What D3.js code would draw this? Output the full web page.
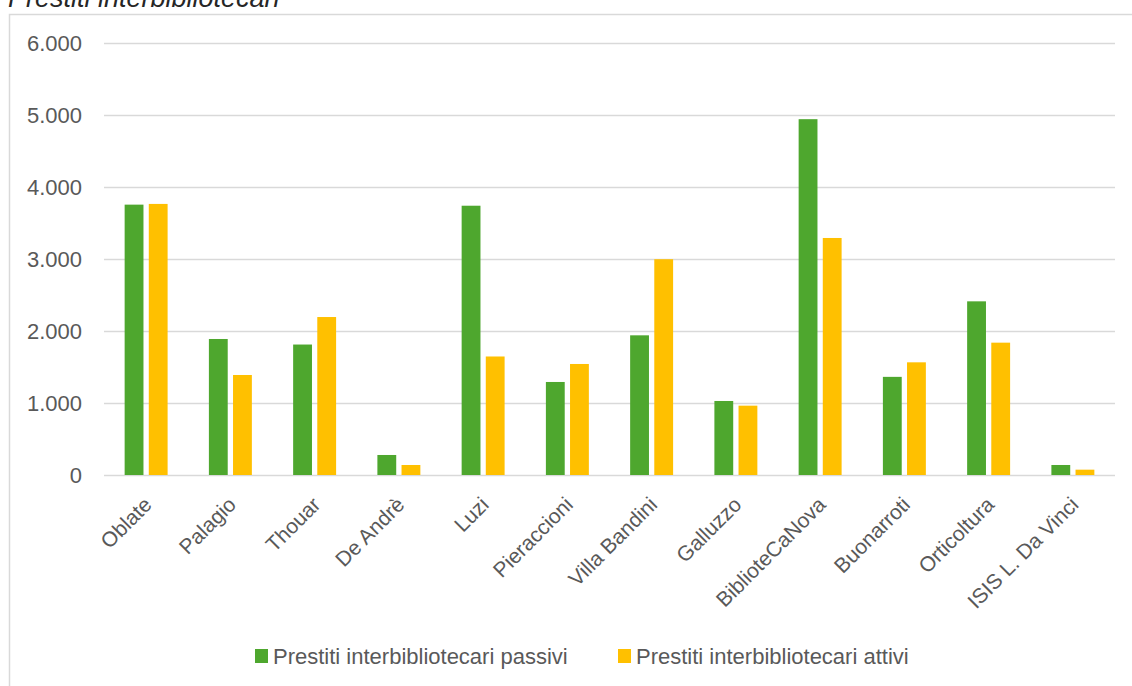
<!DOCTYPE html>
<html><head><meta charset="utf-8">
<script src="https://cdn.jsdelivr.net/npm/d3@7"></script>
<style>
html,body{margin:0;padding:0;background:#fff;}
svg{display:block;font-family:"Liberation Sans",Arial,sans-serif;}
</style></head>
<body>
<svg id="chart" width="1132" height="686"></svg>
<script>
const categories = ["Oblate","Palagio","Thouar","De Andrè","Luzi","Pieraccioni","Villa Bandini","Galluzzo","BiblioteCaNova","Buonarroti","Orticoltura","ISIS L. Da Vinci"];
const seriesNames = ["Prestiti interbibliotecari passivi","Prestiti interbibliotecari attivi"];
const passivi = [3755, 1889, 1812, 278, 3740, 1292, 1940, 1028, 4942, 1363, 2412, 139];
const attivi  = [3765, 1389, 2194, 139, 1646, 1542, 2997, 963, 3292, 1565, 1838, 74];
const yTicks = [0, 1000, 2000, 3000, 4000, 5000, 6000];
const title = "Prestiti interbibliotecari";
const colors = ["#4EA72E", "#FFC000"];

const svg = d3.select("#chart");
const mLeft = 104, mRight = 1115, mTop = 43, mBottom = 475;
const locale = d3.formatLocale({decimal: ",", thousands: ".", grouping: [3], currency: ["€", ""]});
const fmt = locale.format(",");

// frame
svg.append("path").attr("d", `M9.5,686 V14.5 H1132`).attr("fill", "none").attr("stroke", "#d9d9d9").attr("stroke-width", 1.5);

// title
svg.append("text").attr("x", 8).attr("y", 7).attr("font-size", 27).attr("font-style", "italic")
  .attr("fill", "#262626").text(title);

const y = d3.scaleLinear().domain([0, 6000]).range([mBottom, mTop]);
const x0 = d3.scaleBand().domain(categories).range([mLeft, mRight]).paddingInner(0.49).paddingOuter(0.245);
const x1 = d3.scaleBand().domain(seriesNames).range([0, x0.bandwidth()]).paddingInner(0.22);

// grid
const yAxis = d3.axisLeft(y).tickValues(yTicks).tickSize(-(mRight - mLeft)).tickFormat(fmt).tickPadding(22);
const gy = svg.append("g").attr("transform", `translate(${mLeft},0)`).call(yAxis);
gy.select(".domain").remove();
gy.selectAll(".tick line").attr("stroke", "#d9d9d9").attr("stroke-width", 1.5);
gy.selectAll(".tick text").attr("font-size", 22).attr("fill", "#595959").attr("font-family", "Liberation Sans, Arial, sans-serif");

// bars
const data = categories.map((c, i) => ({c, vals: [passivi[i], attivi[i]]}));
const groups = svg.append("g").selectAll("g").data(data).join("g")
  .attr("transform", d => `translate(${x0(d.c)},0)`);
groups.selectAll("rect").data(d => d.vals.map((v, k) => ({k, v}))).join("rect")
  .attr("x", d => x1(seriesNames[d.k]))
  .attr("width", x1.bandwidth())
  .attr("y", d => y(d.v))
  .attr("height", d => y(0) - y(d.v))
  .attr("fill", d => colors[d.k]);

// x axis labels
const xAxis = d3.axisBottom(x0).tickSize(0).tickPadding(0);
const gx = svg.append("g").attr("transform", `translate(0,${mBottom})`).call(xAxis);
gx.select(".domain").remove();
gx.selectAll(".tick text")
  .attr("font-size", 21).attr("fill", "#595959").attr("font-family", "Liberation Sans, Arial, sans-serif")
  .attr("text-anchor", "end").attr("dy", null).attr("y", 0)
  .attr("transform", "translate(7,31) rotate(-45)");

// legend
const legendX = [255, 618];
const lg = svg.append("g").selectAll("g").data(seriesNames).join("g")
  .attr("transform", (d, i) => `translate(${legendX[i]},649)`);
lg.append("rect").attr("width", 13).attr("height", 14).attr("fill", (d, i) => colors[i]);
lg.append("text").attr("x", 18).attr("y", 14.5).attr("font-size", 22).attr("fill", "#595959").text(d => d);
</script>
</body></html>
